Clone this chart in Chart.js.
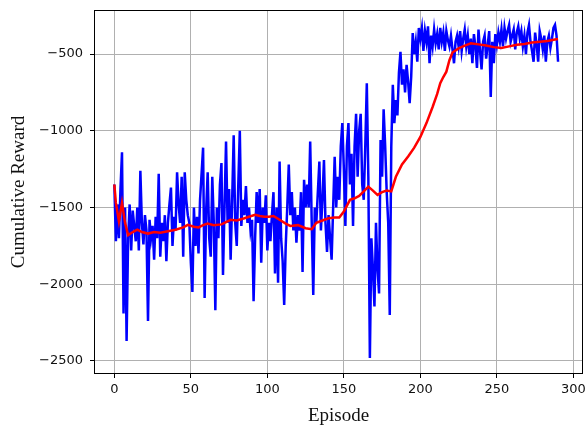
<!DOCTYPE html>
<html>
<head>
    <title>Cumulative Reward per Episode</title>
    <script src="https://cdn.jsdelivr.net/npm/chart.js"></script>
    <style>
        body {
            margin: 0;
            background: #fff;
        }
        #wrap {
            width: 587px;
            height: 426px;
        }
    </style>
</head>
<body>
<div id="wrap"><canvas id="rewardChart" width="587" height="426"></canvas></div>

<script>
    // raw reward per episode (episodes 0..290)
    const rewards = [
        -1350, -1720, -1480, -1700, -1380, -1140, -2190, -1500, -2370, -1700,
        -1480, -1780, -1520, -1620, -1720, -1500, -1780, -1260, -1600, -1740,
        -1550, -1650, -2240, -1580, -1700, -1620, -1840, -1560, -1700, -1280,
        -1820, -1600, -1720, -1550, -1850, -1600, -1480, -1370, -1750, -1560,
        -1650, -1270, -1480, -1600, -1300, -1820, -1270, -1450, -1550, -1600,
        -1860, -2050, -1500, -1750, -1560, -1800, -1450, -1280, -1110, -2090,
        -1520, -1270, -1700, -1820, -1300, -1600, -2170, -1500, -1700, -1350,
        -1210, -1940, -1500, -1070, -1600, -1380, -1840, -1450, -1030, -1600,
        -1750, -1350, -1000, -1620, -1450, -1550, -1360, -1600, -1500, -1650,
        -1580, -2110, -1700, -1400, -1600, -1380, -1860, -1500, -1600, -1420,
        -1780, -1600, -1720, -1550, -1400, -1930, -1500, -1990, -1200, -1700,
        -1850, -2135, -1750, -1500, -1220, -1550, -1400, -1650, -1500, -1730,
        -1550, -1650, -1400, -1920, -1320, -1500, -1350, -1500, -1070, -1600,
        -2070, -1500, -1600, -1400, -1200, -1650, -1450, -1190, -1600, -1790,
        -1550, -1700, -1840, -1500, -1170, -1500, -1300, -1450, -1100, -950,
        -1250, -1620, -1100, -950, -1350, -1150, -1620, -1100, -890, -1300,
        -1000, -890, -1350, -1450, -1100, -690, -1300, -2480, -1700, -1900,
        -2145, -1600, -1900, -2060, -1060, -1300, -860, -1100, -1400, -1600,
        -2200, -1100, -700, -950, -800, -900, -620, -485, -700, -600,
        -750, -570, -680, -820, -650, -363, -500, -420, -550, -330,
        -400, -330, -480, -350, -420, -320, -560, -380, -450, -340,
        -430, -370, -470, -330, -420, -360, -480, -350, -410, -450,
        -380, -470, -560, -420, -380, -450, -350, -480, -400, -340,
        -450, -380, -500, -400, -560, -370, -450, -590, -340, -480,
        -600, -420, -380, -530, -440, -350, -780, -420, -560, -370,
        -440, -360, -420, -340, -450, -330, -400, -350, -310, -420,
        -380, -340, -470, -360, -320, -400, -350, -450, -380, -500,
        -360, -310, -420, -480, -550, -360, -440, -550, -350, -400,
        -470, -380, -550, -420, -380, -460, -400, -330, -310, -380,
        -550
    ];

    // smoothed curve, sampled at these episodes
    const smoothEpisodes = [
        0, 1, 3, 5, 7, 9, 12, 15, 18, 22, 26, 30, 35, 40, 45, 48, 52, 55, 58, 61,
        65, 70, 73, 76, 80, 85, 88, 92, 95, 98, 101, 104, 108, 112, 115, 120, 125, 129, 132, 136,
        140, 144, 147, 150, 154, 157, 160, 163, 166, 169, 172, 175, 178, 181, 184, 188, 192, 196, 200, 204,
        208, 211, 213, 215, 217, 219, 221, 225, 229, 233, 238, 243, 248, 253, 258, 263, 268, 273, 278, 283,
        288, 290
    ];
    const smoothValues = [
        -1350, -1470, -1590, -1470, -1600, -1680, -1660, -1645, -1660, -1670, -1660, -1665, -1655, -1645, -1630, -1613, -1625, -1630, -1615, -1605,
        -1615, -1610, -1595, -1580, -1585, -1570, -1560, -1548, -1555, -1560, -1560, -1555, -1580, -1605, -1620, -1615, -1635, -1641, -1600, -1585,
        -1570, -1565, -1565, -1526, -1450, -1440, -1425, -1395, -1364, -1390, -1418, -1400, -1390, -1395, -1300, -1220, -1167, -1110, -1040, -950,
        -845, -760, -690, -650, -615, -540, -490, -463, -445, -430, -437, -445, -455, -460, -450, -440, -435, -425, -420, -415,
        -405, -402
    ];

    const xTicks = [0, 50, 100, 150, 200, 250, 300];
    const yTicks = [-2500, -2000, -1500, -1000, -500];

    const rawPoints = rewards.map((v, i) => ({x: i, y: v}));
    const smoothPoints = smoothEpisodes.map((e, i) => ({x: e, y: smoothValues[i]}));

    // matplotlib-style box round the plot area
    const frame = {
        id: 'frame',
        afterDraw(chart) {
            const a = chart.chartArea;
            const ctx = chart.ctx;
            ctx.save();
            ctx.strokeStyle = '#000';
            ctx.lineWidth = 1;
            ctx.strokeRect(a.left + 0.5, a.top + 0.5, a.right - a.left - 1, a.bottom - a.top - 1);
            ctx.restore();
        }
    };

    const tickFont = {family: "'DejaVu Sans'", size: 13};
    const titleFont = {family: "'Liberation Serif'", size: 19, lineHeight: 1};

    new Chart(document.getElementById('rewardChart'), {
        type: 'line',
        data: {
            datasets: [{
                data: rawPoints,
                borderColor: '#0000ff',
                borderWidth: 2.5,
                pointRadius: 0,
                tension: 0,
                order: 2
            }, {
                data: smoothPoints,
                borderColor: '#ff0000',
                borderWidth: 2.5,
                pointRadius: 0,
                tension: 0,
                order: 1
            }]
        },
        options: {
            responsive: false,
            animation: false,
            layout: {padding: {top: 10, right: 4, left: 0, bottom: 0}},
            plugins: {
                legend: {display: false},
                tooltip: {enabled: false}
            },
            scales: {
                x: {
                    type: 'linear',
                    min: -13.3,
                    max: 306.3,
                    afterBuildTicks: s => { s.ticks = xTicks.map(v => ({value: v})); },
                    afterFit: s => { s.height = 52; s.paddingLeft = 0; s.paddingRight = 0; },
                    grid: {color: '#b0b0b0', lineWidth: 1, tickColor: '#000', tickLength: 4},
                    border: {display: false},
                    ticks: {font: tickFont, color: '#111', padding: 4, maxRotation: 0},
                    title: {display: true, text: 'Episode', font: titleFont, color: '#111', padding: {top: 0, bottom: 0}}
                },
                y: {
                    min: -2585,
                    max: -213,
                    afterBuildTicks: s => { s.ticks = yTicks.map(v => ({value: v})); },
                    afterFit: s => { s.width = 94; s.paddingTop = 0; s.paddingBottom = 0; },
                    grid: {color: '#b0b0b0', lineWidth: 1, tickColor: '#000', tickLength: 4},
                    border: {display: false},
                    ticks: {
                        font: tickFont,
                        color: '#111',
                        padding: 7,
                        callback: v => (v < 0 ? '\u2212' : '') + Math.abs(v)
                    },
                    title: {display: true, text: 'Cumulative Reward', font: titleFont, color: '#111', padding: {top: 10, bottom: 0}}
                }
            }
        },
        plugins: [frame]
    });
</script>
</body>
</html>
